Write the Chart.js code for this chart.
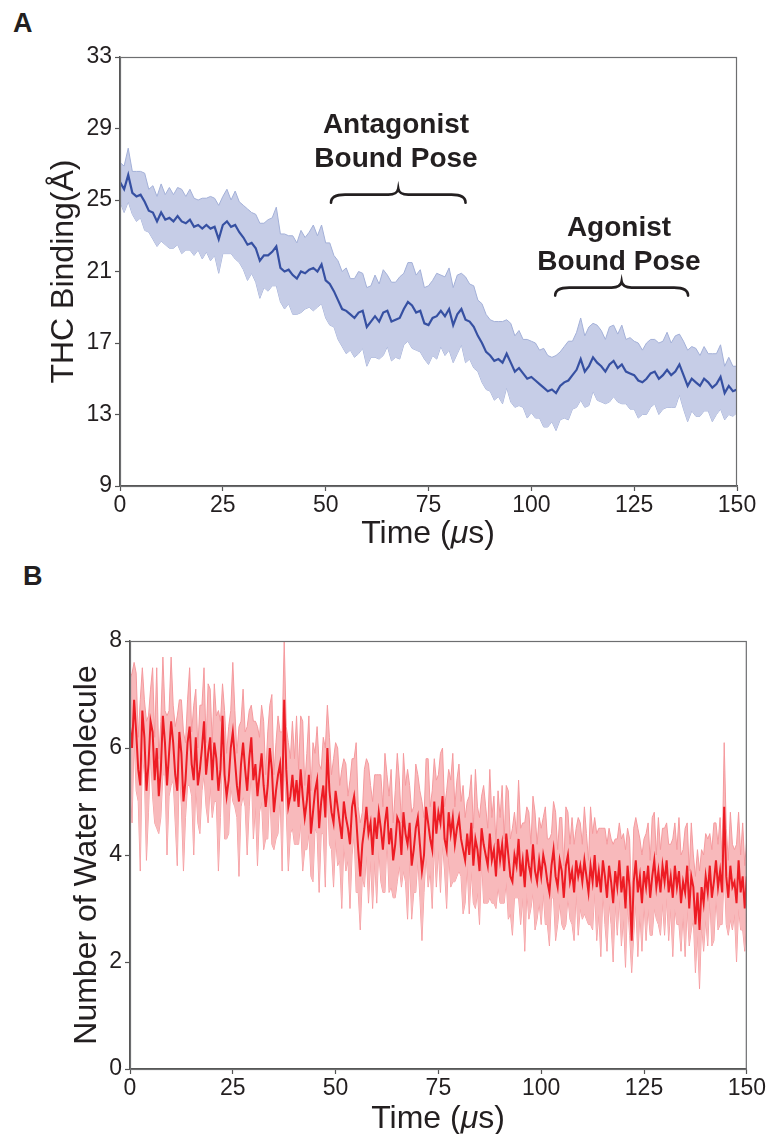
<!DOCTYPE html>
<html>
<head>
<meta charset="utf-8">
<script src="https://cdn.jsdelivr.net/npm/chart.js@4.4.1/dist/chart.umd.min.js"></script>
<style>
    body { margin: 0; background: #fff; width: 767px; height: 1134px; overflow: hidden; position: relative;
           font-family: "Liberation Sans", Arial, Helvetica, sans-serif; color: #231f20; }
    .panel { position: absolute; left: 0; }
    .letter { position: absolute; font-weight: bold; font-size: 27px; line-height: 1; }
    .note { position: absolute; font-weight: bold; font-size: 28px; line-height: 34px; text-align: center; width: 240px; }
    .xtitle { position: absolute; font-size: 32px; line-height: 32px; text-align: center; width: 300px; white-space: nowrap; }
</style>
</head>
<body>
<div class="letter" style="left:13px; top:10px;">A</div>
<div class="letter" style="left:23px; top:563px;">B</div>

<div class="panel" style="top:0;"><canvas id="chartA" width="767" height="560"></canvas></div>
<div class="panel" style="top:560px;"><canvas id="chartB" width="767" height="574"></canvas></div>

<div class="note" style="left:276px; top:107px;">Antagonist<br>Bound Pose</div>
<div class="note" style="left:499px; top:210px;">Agonist<br>Bound Pose</div>
<div class="xtitle" style="left:278px; top:516px;">Time (<i>μ</i>s)</div>
<div class="xtitle" style="left:288px; top:1101px;">Time (<i>μ</i>s)</div>

<script>
// Panel A: THC binding distance, one sample per microsecond
const timeStepA = 1;
const thcMean = [
    26.0, 25.6, 26.4, 25.4, 25.2, 25.3, 24.9, 24.4, 24.3, 23.8,
    24.3, 23.9, 24.0, 23.8, 24.1, 23.8, 23.7, 23.9, 23.5, 23.6,
    23.4, 23.6, 23.4, 23.5, 22.8, 23.6, 23.8, 23.5, 23.6, 23.2,
    22.9, 22.5, 22.6, 22.3, 21.6, 21.9, 21.9, 22.1, 22.4, 21.2,
    21.0, 21.1, 20.8, 20.6, 21.0, 20.9, 21.1, 21.2, 21.0, 21.4,
    20.5, 20.3, 19.9, 19.4, 18.9, 18.8, 18.6, 18.4, 18.7, 18.8,
    17.9, 18.2, 18.5, 18.2, 18.7, 18.8, 18.2, 18.3, 18.4, 18.9,
    19.3, 19.1, 18.7, 18.8, 18.1, 18.0, 18.4, 18.5, 18.8, 18.5,
    18.9, 18.0, 18.6, 18.9, 18.3, 18.2, 17.9, 17.4, 17.0, 16.5,
    16.3, 16.0, 16.1, 15.9, 16.4, 15.9, 15.4, 15.6, 15.3, 15.0,
    15.1, 14.9, 14.7, 14.5, 14.3, 14.4, 14.2, 14.6, 14.8, 14.9,
    15.2, 15.5, 16.1, 15.4, 15.7, 16.2, 15.9, 15.7, 15.4, 15.8,
    16.0, 15.6, 15.8, 15.4, 15.3, 15.2, 14.9, 14.8, 15.0, 15.3,
    15.4, 15.0, 15.2, 15.5, 15.2, 15.4, 15.8, 15.2, 14.6, 15.0,
    14.8, 14.6, 15.0, 14.8, 14.5, 14.7, 15.1, 14.2, 14.6, 14.3,
    14.4
];
const thcSpread = [
    1.1, 1.3, 1.5, 1.2, 1.4, 1.3, 1.6, 1.2, 1.5, 1.4,
    1.6, 1.4, 1.7, 1.5, 1.6, 1.8, 1.5, 1.7, 1.6, 1.4,
    1.7, 1.5, 1.8, 1.6, 1.9, 1.6, 1.8, 1.5, 1.9, 1.7,
    1.8, 2.0, 1.7, 1.9, 2.1, 1.8, 2.0, 1.9, 2.2, 1.9,
    2.1, 1.9, 2.2, 2.0, 2.3, 2.0, 2.1, 2.4, 2.0, 2.2,
    2.1, 2.3, 2.0, 2.2, 2.1, 2.4, 2.0, 2.2, 2.3, 2.1,
    2.2, 2.0, 2.3, 2.1, 2.4, 2.0, 2.2, 2.1, 2.3, 2.0,
    2.2, 2.4, 2.1, 2.3, 2.0, 2.2, 2.1, 2.4, 2.0, 2.2,
    2.3, 2.1, 2.2, 2.0, 2.4, 2.1, 2.3, 2.0, 2.2, 2.1,
    2.0, 2.2, 2.1, 2.3, 1.9, 2.2, 2.0, 2.1, 1.9, 2.2,
    2.0, 2.1, 1.9, 2.2, 2.0, 1.8, 2.1, 1.9, 2.0, 2.2,
    1.9, 2.1, 2.3, 2.0, 2.2, 1.9, 2.1, 2.0, 1.8, 2.1,
    2.0, 1.9, 2.2, 1.8, 2.0, 1.9, 2.1, 1.8, 2.0, 1.9,
    1.8, 2.0, 1.9, 2.1, 1.8, 2.0, 1.7, 1.9, 2.0, 1.8,
    1.9, 1.7, 1.8, 1.6, 1.9, 1.7, 1.8, 1.5, 1.6, 1.4,
    1.3
];
const thcTicks = [9, 13, 17, 21, 25, 29, 33];

// bound pose braces: [start, end] in microseconds, level in Angstrom
const braceRanges = [[51.3, 84.0], [105.8, 138.1]];
const braceLevels = [25.3, 20.1];

// Panel B: number of water molecules, two samples per microsecond
const timeStepB = 0.5;
const waterMean = [
    6.4, 6.0, 6.9, 6.3, 5.6, 5.3, 6.7, 6.2, 5.2, 5.7, 6.5, 6.3, 5.4, 6.0, 5.1, 5.6, 6.6, 6.1, 5.3, 5.9,
    6.5, 6.1, 5.5, 5.2, 6.3, 5.9, 5.0, 5.4, 6.1, 6.4, 5.7, 5.4, 6.2, 5.3, 5.6, 6.0, 6.5, 5.5, 5.9, 6.2,
    5.4, 6.1, 5.8, 5.2, 5.6, 6.6, 5.5, 5.1, 5.4, 6.0, 6.3, 5.8, 5.3, 5.0, 5.7, 6.1, 5.6, 5.2, 5.8, 6.2,
    5.4, 5.7, 5.1, 5.5, 5.9, 5.3, 4.9, 5.3, 6.0, 5.6, 4.8, 5.2, 5.5, 5.7, 5.0, 6.9, 5.6, 4.9, 5.1, 5.5,
    5.0, 5.4, 4.9, 5.6, 5.1, 4.7, 5.0, 5.5, 4.4, 4.8, 5.2, 5.4, 4.5, 5.0, 5.3, 4.7, 6.0, 5.2, 4.8, 4.6,
    5.2, 4.9, 4.6, 4.3, 5.0, 4.7, 4.5, 4.2, 4.9, 5.1, 4.7, 4.1, 3.6, 4.2, 4.5, 4.9, 4.4, 4.6, 4.0, 4.7,
    4.3, 4.8, 4.5, 4.1, 4.6, 4.9, 4.2, 4.5, 3.9, 4.2, 4.7, 4.6, 4.0, 4.8, 4.4, 4.2, 4.6, 3.8, 4.1, 4.5,
    4.7, 4.2, 3.7, 4.0, 4.9, 4.6, 4.3, 4.1, 5.0, 4.4, 4.8, 4.6, 5.1, 4.3, 4.1, 4.8, 4.4, 4.7, 4.2, 4.5,
    4.7, 4.3, 4.1, 3.9, 4.4, 4.0, 4.6, 3.8, 4.3, 4.1, 3.7, 4.5, 4.2, 4.0, 3.8, 4.4, 3.9, 4.1, 3.6, 4.3,
    3.9, 4.2, 3.7, 4.4, 4.0, 3.6, 3.5, 4.0, 3.8, 4.3, 3.6, 3.9, 3.4, 4.1, 3.8, 3.6, 4.2, 3.7, 3.5, 3.9,
    3.6, 4.0, 3.8, 3.5, 3.3, 3.8, 4.1, 3.6, 3.4, 3.9, 3.7, 3.2, 3.8, 4.0, 3.5, 3.7, 3.3, 3.9, 3.6, 3.8,
    3.5, 3.9, 3.6, 3.3, 3.8, 3.5, 4.0, 3.4, 3.7, 3.3, 3.9, 3.6, 3.2, 3.8, 3.5, 3.1, 3.7, 3.4, 3.9, 3.3,
    3.6, 3.0, 3.8, 3.4, 2.4, 3.5, 3.9, 3.3, 3.6, 3.1, 3.7, 3.4, 3.8, 3.2, 3.6, 3.9, 3.4, 3.7, 3.3, 3.8,
    3.5, 3.9, 3.3, 3.6, 3.2, 3.8, 3.4, 3.7, 3.1, 3.5, 3.3, 3.8, 3.0, 3.6, 3.4, 2.7, 3.3, 2.6, 3.4, 3.1,
    3.6, 3.3, 3.8, 3.2, 3.5, 3.9, 3.4, 3.7, 3.3, 4.9, 3.6, 3.2, 3.8, 3.4, 3.5, 3.1, 3.9, 3.3, 3.6, 3.0,
    3.6
];
const waterSpread = [
    0.9, 1.4, 0.7, 1.1, 0.6, 1.6, 0.8, 0.7, 1.3, 0.9, 0.6, 1.2, 0.8, 1.5, 0.7, 0.9, 1.1, 0.6, 1.3, 0.8,
    1.2, 0.7, 0.9, 1.4, 0.6, 1.0, 1.3, 0.7, 0.8, 1.1, 0.6, 1.4, 0.9, 0.7, 1.2, 0.8, 1.0, 0.6, 1.3, 0.9,
    0.7, 1.1, 0.8, 1.5, 0.9, 0.6, 1.2, 0.8, 1.0, 0.7, 1.3, 0.9, 0.6, 1.4, 0.8, 1.0, 0.7, 1.2, 0.9, 0.6,
    1.1, 0.8, 1.3, 0.7, 0.9, 1.2, 0.6, 1.0, 0.8, 1.4, 0.7, 0.9, 1.1, 0.6, 1.3, 1.1, 0.8, 1.2, 0.7, 1.0,
    0.8, 1.2, 0.7, 1.0, 1.4, 0.6, 0.9, 1.1, 0.8, 1.3, 0.7, 1.0, 1.2, 0.6, 0.9, 1.3, 0.8, 1.0, 0.7, 1.2,
    0.9, 1.1, 0.7, 1.3, 0.8, 1.0, 0.6, 1.2, 0.9, 0.7, 1.4, 0.8, 1.0, 0.6, 1.1, 0.9, 1.3, 0.7, 1.0, 0.8,
    1.2, 0.7, 1.0, 0.8, 1.3, 0.6, 0.9, 1.1, 0.7, 1.0, 1.2, 0.8, 0.6, 1.1, 0.9, 1.4, 0.7, 1.0, 0.8, 1.2,
    0.8, 1.0, 1.3, 0.7, 0.9, 1.2, 0.6, 1.1, 0.8, 1.0, 0.7, 1.3, 0.9, 0.6, 1.1, 0.8, 1.0, 1.2, 0.7, 0.9,
    1.0, 0.7, 1.2, 0.8, 0.6, 1.1, 0.9, 0.7, 1.3, 0.8, 1.0, 0.6, 1.1, 0.9, 0.7, 1.2, 0.8, 1.0, 0.6, 0.9,
    0.8, 1.1, 0.6, 0.9, 1.2, 0.7, 1.0, 0.8, 0.6, 1.1, 0.9, 0.7, 1.2, 0.8, 1.0, 0.6, 0.9, 1.1, 0.7, 0.8,
    0.9, 0.7, 1.1, 0.8, 1.0, 0.6, 0.9, 1.2, 0.7, 0.8, 1.0, 0.6, 1.1, 0.8, 0.7, 1.0, 0.9, 0.6, 1.1, 0.8,
    0.7, 1.0, 0.8, 0.6, 1.1, 0.9, 0.7, 1.0, 0.8, 1.2, 0.6, 0.9, 1.0, 0.7, 0.8, 1.1, 0.6, 0.9, 0.7, 1.0,
    0.8, 1.1, 0.7, 0.9, 0.6, 1.0, 0.8, 1.2, 0.7, 0.9, 0.6, 1.0, 0.8, 0.7, 1.1, 0.9, 0.6, 1.0, 0.8, 0.7,
    1.0, 0.7, 0.9, 0.6, 1.1, 0.8, 0.7, 1.0, 0.9, 0.6, 1.2, 0.8, 0.7, 1.0, 0.6, 0.9, 0.8, 1.1, 0.7, 0.9,
    0.8, 1.0, 0.6, 0.9, 1.1, 0.7, 0.8, 1.0, 0.6, 1.2, 0.9, 0.7, 1.0, 0.8, 0.6, 1.1, 0.9, 0.7, 1.0, 0.8,
    0.7
];
const waterTicks = [0, 2, 4, 6, 8];
const timeTicks = [0, 25, 50, 75, 100, 125, 150];

const fontFamily = '"Liberation Sans", Arial, Helvetica, sans-serif';
const inkColor = '#231f20';

function toPoints(values, step, offset) {
    return values.map((v, i) => ({ x: i * step, y: v + (offset ? offset[i] : 0) }));
}
function negate(arr) {
    return arr.map(v => -v);
}

// draws the top/right frame lines around the plot area
const framePlugin = {
    id: 'frame',
    afterDatasetsDraw(chart) {
        const { ctx, chartArea } = chart;
        ctx.save();
        ctx.strokeStyle = '#6d6e70';
        ctx.lineWidth = 1.2;
        ctx.strokeRect(chartArea.left + 0.5, chartArea.top + 0.5,
            chartArea.right - chartArea.left - 1, chartArea.bottom - chartArea.top);
        ctx.restore();
    }
};

// curly braces above the bound-pose regions
const bracePlugin = {
    id: 'braces',
    afterDraw(chart) {
        if (!chart.options.plugins.braces) return;
        const { ctx, scales } = chart;
        ctx.save();
        ctx.strokeStyle = inkColor;
        ctx.lineWidth = 2.6;
        ctx.lineCap = 'round';
        braceRanges.forEach((range, i) => {
            const x1 = scales.x.getPixelForValue(range[0]);
            const x2 = scales.x.getPixelForValue(range[1]);
            const y = scales.y.getPixelForValue(braceLevels[i]);
            const xm = (x1 + x2) / 2;
            ctx.beginPath();
            ctx.moveTo(x1, y + 8);
            ctx.quadraticCurveTo(x1, y, x1 + 14, y);
            ctx.lineTo(xm - 10, y);
            ctx.quadraticCurveTo(xm - 1, y, xm, y - 6);
            ctx.quadraticCurveTo(xm + 1, y, xm + 10, y);
            ctx.lineTo(x2 - 14, y);
            ctx.quadraticCurveTo(x2, y, x2, y + 8);
            ctx.stroke();
        });
        ctx.restore();
    }
};

function makeChart(id, cfg) {
    const tickFont = { family: fontFamily, size: 23 };
    return new Chart(document.getElementById(id), {
        type: 'line',
        data: {
            datasets: [
                { data: cfg.mean, borderColor: cfg.lineColor, borderWidth: cfg.lineWidth,
                  pointRadius: 0, tension: 0, fill: false },
                { data: cfg.upper, borderColor: cfg.edgeColor, borderWidth: 1,
                  backgroundColor: cfg.bandColor, pointRadius: 0, tension: 0, fill: '+1' },
                { data: cfg.lower, borderColor: cfg.edgeColor, borderWidth: 1,
                  pointRadius: 0, tension: 0, fill: false }
            ]
        },
        options: {
            responsive: false,
            animation: false,
            layout: { padding: cfg.padding },
            plugins: {
                legend: { display: false },
                tooltip: { enabled: false },
                braces: cfg.braces
            },
            scales: {
                x: {
                    type: 'linear', min: 0, max: 150,
                    afterBuildTicks: s => { s.ticks = timeTicks.map(v => ({ value: v })); },
                    afterFit: s => { s.height = cfg.xHeight; },
                    grid: { drawOnChartArea: false, tickLength: 5, tickColor: '#555', tickWidth: 1.2 },
                    border: { color: '#555', width: 1.5 },
                    ticks: { font: tickFont, color: inkColor, padding: 1, maxRotation: 0 }
                },
                y: {
                    min: cfg.yMin, max: cfg.yMax,
                    afterBuildTicks: s => { s.ticks = cfg.yTicks.map(v => ({ value: v })); },
                    afterFit: s => { s.width = cfg.yWidth; },
                    grid: { drawOnChartArea: false, tickLength: 5, tickColor: '#555', tickWidth: 1.2 },
                    border: { color: '#555', width: 1.5 },
                    ticks: { font: tickFont, color: inkColor, padding: 3 },
                    title: { display: true, text: cfg.yTitle, color: inkColor,
                             font: { family: fontFamily, size: 32 }, padding: { top: cfg.titlePad } }
                }
            }
        },
        plugins: [framePlugin, bracePlugin]
    });
}

makeChart('chartA', {
    mean: toPoints(thcMean, timeStepA),
    upper: toPoints(thcMean, timeStepA, thcSpread),
    lower: toPoints(thcMean, timeStepA, negate(thcSpread)),
    lineColor: '#3650a2', lineWidth: 2.2,
    edgeColor: '#a3b0d8', bandColor: '#c6cde7',
    padding: { top: 57, right: 30, left: 0, bottom: 0 },
    xHeight: 74, yWidth: 120, titlePad: 45,
    yMin: 9, yMax: 33, yTicks: thcTicks,
    yTitle: 'THC Binding(Å)',
    braces: true
});

makeChart('chartB', {
    mean: toPoints(waterMean, timeStepB),
    upper: toPoints(waterMean, timeStepB, waterSpread),
    lower: toPoints(waterMean, timeStepB, negate(waterSpread)),
    lineColor: '#ed1c24', lineWidth: 2,
    edgeColor: '#f59a9e', bandColor: '#f8b9bb',
    padding: { top: 81, right: 20, left: 0, bottom: 0 },
    xHeight: 65, yWidth: 130, titlePad: 68,
    yMin: 0, yMax: 8, yTicks: waterTicks,
    yTitle: 'Number of Water molecule',
    braces: false
});
</script>
</body>
</html>
